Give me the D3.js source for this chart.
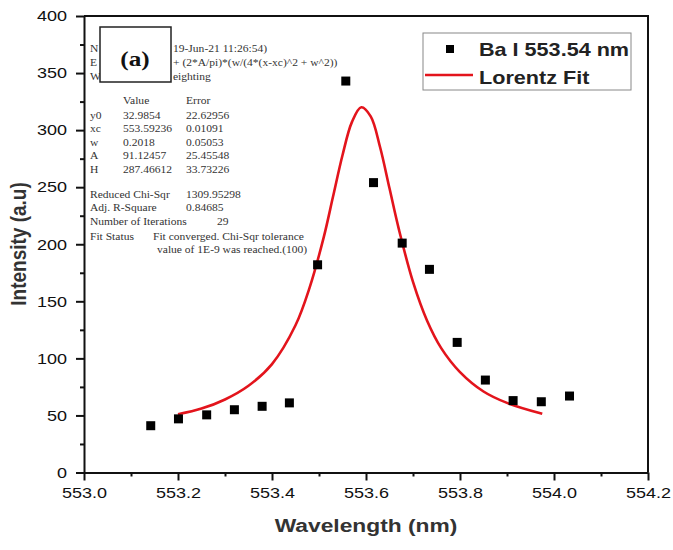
<!DOCTYPE html>
<html>
<head>
<meta charset="utf-8">
<script src="https://cdn.jsdelivr.net/npm/d3@7"></script>
<style>
  body { margin: 0; background: #fff; }
  svg { display: block; }
</style>
</head>
<body>
<div id="chart"></div>
<script>

// measured points: Ba I 553.54 nm line
const wavelength = [553.142, 553.201, 553.261, 553.320, 553.379, 553.437, 553.497, 553.557,
                    553.616, 553.677, 553.735, 553.794, 553.854, 553.913, 553.973, 554.033];
const intensity = [41, 47, 50.5, 55, 58, 61, 182, 343, 254, 201, 178, 114, 81, 63, 62, 67];

// red Lorentz fit curve
const fitWavelength = [553.20, 553.25, 553.30, 553.35, 553.40, 553.45, 553.48, 553.51, 553.53, 553.55,
                       553.57, 553.59, 553.61, 553.63, 553.65, 553.67, 553.70, 553.73, 553.76, 553.80,
                       553.85, 553.90, 553.975];
const fitIntensity = [51, 56, 64, 76, 95, 129, 162, 206, 242, 278,
                      307, 320, 312, 285, 249, 213, 167, 133, 109, 88,
                      71, 61, 51.5];

const xTicks = [553.0, 553.2, 553.4, 553.6, 553.8, 554.0, 554.2];
const xMinor = [553.1, 553.3, 553.5, 553.7, 553.9, 554.1];
const yTicks = [0, 50, 100, 150, 200, 250, 300, 350, 400];
const yMinor = [25, 75, 125, 175, 225, 275, 325, 375];

// fit report (Origin style), the part the (a) box leaves visible
const fitParams = ["y0", "xc", "w", "A", "H"];
const fitValues = ["32.9854", "553.59236", "0.2018", "91.12457", "287.46612"];
const fitErrors = ["22.62956", "0.01091", "0.05053", "25.45548", "33.73226"];
const fitStats = [["Reduced Chi-Sqr", "1309.95298"], ["Adj. R-Square", "0.84685"], ["Number of Iterations", "29"]];

const legendLabels = ["Ba I 553.54 nm", "Lorentz Fit"];

const width = 673, height = 550;
const sx = 1.2; // the figure is stretched sideways

const svg = d3.select("#chart").append("svg")
    .attr("width", width)
    .attr("height", height);

const x = d3.scaleLinear().domain([553.0, 554.2]).range([84, 648]);
const y = d3.scaleLinear().domain([0, 400]).range([472.5, 16]);

// helper for stretched text
function label(g, tx, ty, str, opts) {
    return g.append("text")
        .attr("transform", `translate(${tx},${ty}) scale(${opts.sx || sx},1)` + (opts.rot ? ` rotate(${opts.rot})` : ""))
        .attr("text-anchor", opts.anchor || "start")
        .attr("font-family", opts.family || "Liberation Sans, Arial, sans-serif")
        .attr("font-size", opts.size)
        .attr("font-weight", opts.weight || "normal")
        .attr("fill", opts.fill || "#111")
        .text(str);
}

// frame top and right
svg.append("path")
    .attr("d", `M${x.range()[0]},${y.range()[1]} H${x.range()[1]} V${y.range()[0]}`)
    .attr("fill", "none")
    .attr("stroke", "#111")
    .attr("stroke-width", 2);

// x axis
const xAxis = svg.append("g")
    .attr("transform", `translate(0,${y.range()[0]})`)
    .call(d3.axisBottom(x).tickValues(xTicks).tickFormat(d3.format(".1f"))
        .tickSize(8).tickSizeOuter(0).tickPadding(7));
xAxis.append("g").call(d3.axisBottom(x).tickValues(xMinor).tickFormat("").tickSize(4).tickSizeOuter(0))
    .select(".domain").remove();
xAxis.selectAll("text")
    .attr("transform", `scale(${sx},1)`)
    .attr("font-family", "Liberation Sans, Arial, sans-serif")
    .attr("font-size", 15)
    .attr("fill", "#111");

// y axis
const yAxis = svg.append("g")
    .attr("transform", `translate(${x.range()[0]},0)`)
    .call(d3.axisLeft(y).tickValues(yTicks).tickSize(8).tickSizeOuter(0).tickPadding(9));
yAxis.append("g").call(d3.axisLeft(y).tickValues(yMinor).tickFormat("").tickSize(4).tickSizeOuter(0))
    .select(".domain").remove();
yAxis.selectAll("text")
    .attr("x", -17 / sx)
    .attr("transform", `scale(${sx},1)`)
    .attr("font-family", "Liberation Sans, Arial, sans-serif")
    .attr("font-size", 15)
    .attr("fill", "#111");

svg.selectAll(".domain, .tick line")
    .attr("stroke", "#111")
    .attr("stroke-width", 2);

// axis titles
label(svg, (x.range()[0] + x.range()[1]) / 2, 532, "Wavelength (nm)", {anchor: "middle", size: 19, weight: "bold", fill: "#333"});
label(svg, 26, 244, "Intensity (a.u)", {anchor: "middle", size: 19, weight: "bold", fill: "#333", rot: -90});

// fit report text
const rep = svg.append("g");
const serif = "Liberation Serif, Times New Roman, serif";
const rs = {size: 10.5, family: serif, fill: "#333", sx: 1.1};
label(rep, 90, 52, "N", rs);
label(rep, 173, 52, "19-Jun-21 11:26:54)", rs);
label(rep, 90, 66, "E", rs);
label(rep, 173, 66, "+ (2*A/pi)*(w/(4*(x-xc)^2 + w^2))", rs);
label(rep, 90, 80, "W", rs);
label(rep, 173, 80, "eighting", rs);
label(rep, 123, 104, "Value", rs);
label(rep, 186, 104, "Error", rs);
fitParams.forEach((p, i) => {
    const ty = 119 + i * 13.4;
    label(rep, 90, ty, p, rs);
    label(rep, 123, ty, fitValues[i], rs);
    label(rep, 186, ty, fitErrors[i], rs);
});
fitStats.forEach((s, i) => {
    const ty = 198 + i * 13.3;
    label(rep, 90, ty, s[0], rs);
    label(rep, s[1] === "29" ? 217 : 186, ty, s[1], rs);
});
label(rep, 90, 239.5, "Fit Status", rs);
label(rep, 153, 239.5, "Fit converged. Chi-Sqr tolerance", rs);
label(rep, 157, 252.5, "value of 1E-9 was reached.(100)", rs);

// (a) box
svg.append("rect")
    .attr("x", 100).attr("y", 27).attr("width", 71).attr("height", 55)
    .attr("fill", "#fff").attr("stroke", "#222").attr("stroke-width", 1.5);
label(svg, 135, 66, "(a)", {anchor: "middle", size: 21, weight: "bold", family: serif, fill: "#111"});

// fit curve
const line = d3.line()
    .x((d, i) => x(fitWavelength[i]))
    .y(d => y(d))
    .curve(d3.curveCatmullRom);
svg.append("path")
    .datum(fitIntensity)
    .attr("d", line)
    .attr("fill", "none")
    .attr("stroke", "#e3141c")
    .attr("stroke-width", 2.6);

// data points
const sq = 9;
svg.selectAll(".pt").data(intensity).enter()
    .append("rect")
    .attr("class", "pt")
    .attr("x", (d, i) => x(wavelength[i]) - sq / 2)
    .attr("y", d => y(d) - sq / 2)
    .attr("width", sq).attr("height", sq)
    .attr("fill", "#000");

// legend
const leg = svg.append("g");
leg.append("rect")
    .attr("x", 423).attr("y", 33).attr("width", 208).attr("height", 57)
    .attr("fill", "#fff").attr("stroke", "#888").attr("stroke-width", 1);
leg.append("rect")
    .attr("x", 450 - 4).attr("y", 49 - 4).attr("width", 8).attr("height", 8).attr("fill", "#000");
label(leg, 479, 56, legendLabels[0], {size: 18, weight: "bold", fill: "#222"});
leg.append("line")
    .attr("x1", 425).attr("x2", 473).attr("y1", 75).attr("y2", 75)
    .attr("stroke", "#e3141c").attr("stroke-width", 2.6);
label(leg, 479, 84, legendLabels[1], {size: 18, weight: "bold", fill: "#222"});

</script>
</body>
</html>
